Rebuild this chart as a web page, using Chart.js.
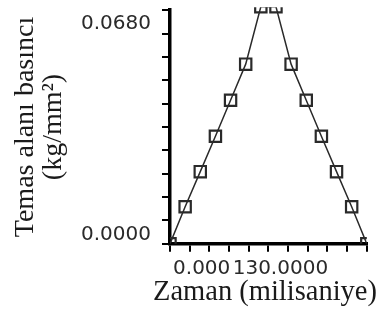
<!DOCTYPE html>
<html>
<head>
<meta charset="utf-8">
<script src="https://cdn.jsdelivr.net/npm/chart.js@4"></script>
<style>
  html, body { margin: 0; padding: 0; background: #fff; }
  #wrap { width: 377px; height: 322px; }
</style>
</head>
<body>
<div id="wrap"><canvas id="c" width="377" height="322"></canvas></div>
<script>
// Time (milliseconds)
const timeMs = [0, 20, 40, 60, 80, 100, 120, 140, 160, 180, 200, 220, 240, 260];
// Contact area pressure (kg/mm^2)
const pressure = [0, 0.0108, 0.0210, 0.0313, 0.0418, 0.0523, 0.0690, 0.0690, 0.0523, 0.0418, 0.0313, 0.0210, 0.0108, 0];
// Tick labels as shown in the figure (index = tick number)
const xTickLabels = ['', '0.000', '', '', '', '130.0000', '', '', '', '', ''];
const yTickLabels = ['0.0000', '', '', '', '', '', '', '', '', '0.0680', ''];
const xTitle = 'Zaman (milisaniye)';
const yTitle = ['Temas alanı basıncı', '(kg/mm²)'];

const points = timeMs.map((t, i) => ({ x: t, y: pressure[i] }));

new Chart(document.getElementById('c'), {
  type: 'line',
  data: {
    datasets: [{
      data: points,
      borderColor: '#2a2a2a',
      borderWidth: 1.5,
      tension: 0,
      fill: false,
      pointStyle: 'rect',
      pointRadius: 8,
      pointBorderWidth: 2.2,
      pointBorderColor: '#2a2a2a',
      pointBackgroundColor: 'rgba(0,0,0,0)',
      clip: { left: 0, top: 3, right: 0, bottom: 0 }
    }]
  },
  options: {
    responsive: false,
    animation: false,
    devicePixelRatio: 1,
    layout: { padding: { top: 10, left: 0, right: 0, bottom: 0 } },
    plugins: {
      legend: { display: false },
      tooltip: { enabled: false },
      title: {
        display: true,
        text: xTitle,
        position: 'bottom',
        align: 'end',
        color: '#1a1a1a',
        font: { family: 'Liberation Serif', size: 28.5, weight: 'normal', lineHeight: 1.2 },
        padding: { top: 0, bottom: 12 }
      }
    },
    scales: {
      x: {
        type: 'linear',
        min: 0,
        max: 260,
        border: { display: true, color: '#000', width: 3.5 },
        grid: { drawOnChartArea: false, drawTicks: true, tickLength: 8, color: '#000', lineWidth: 2 },
        ticks: {
          stepSize: 26,
          autoSkip: false,
          maxRotation: 0,
          labelOffset: 12,
          padding: 5,
          color: '#2a2a2a',
          font: { family: 'DejaVu Sans', size: 20 },
          callback: (v, i) => xTickLabels[i]
        },
        afterFit: (s) => { s.height = 32; s.paddingLeft = 0; s.paddingRight = 0; }
      },
      y: {
        type: 'linear',
        min: 0,
        max: 0.068,
        border: { display: true, color: '#000', width: 3.5 },
        grid: { drawOnChartArea: false, drawTicks: true, tickLength: 8, color: '#000', lineWidth: 2 },
        ticks: {
          count: 11,
          autoSkip: false,
          labelOffset: -9.5,
          padding: 11,
          color: '#2a2a2a',
          font: { family: 'DejaVu Sans', size: 20 },
          callback: (v, i) => yTickLabels[i]
        },
        title: {
          display: true,
          text: yTitle,
          color: '#1a1a1a',
          font: { family: 'Liberation Serif', size: 28, weight: 'normal', lineHeight: '28px' },
          padding: { top: 12, bottom: 0 }
        },
        afterFit: (s) => { s.width = 170; s.paddingTop = 0; s.paddingBottom = 0; }
      }
    }
  }
});
</script>
</body>
</html>
